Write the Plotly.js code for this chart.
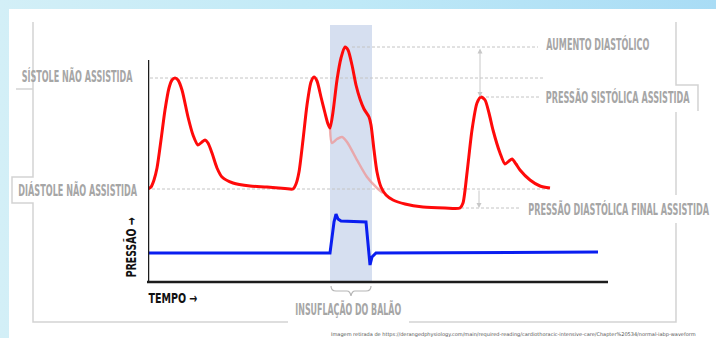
<!DOCTYPE html>
<html><head><meta charset="utf-8">
<script src="https://cdn.plot.ly/plotly-3.0.1.min.js"></script>
<style>
html,body{margin:0;padding:0;width:716px;height:338px;overflow:hidden;
background:linear-gradient(90deg,#d3eff7 0%,#bfe9f7 50%,#a9dcf5 100%);}
#chart{width:716px;height:338px;}
</style></head><body><div id="chart"></div>
<script>
// ---- data (time in s, pressure in arbitrary mmHg-like units) ----
const aortaT = [0,0.015,0.03,0.045,0.065,0.085,0.105,0.12,0.135,0.15,0.17,0.2,0.225,0.25,0.27,0.285,0.3,0.32,0.345,0.37,0.425,0.51,0.595,0.685,0.725,0.74,0.755,0.775,0.795,0.815,0.83,0.845,0.865,0.885,0.9,0.91,0.925,0.945,0.965,0.985,1.0,1.02,1.04,1.06,1.08,1.105,1.115,1.13,1.145,1.165,1.19,1.225,1.285,1.375,1.485,1.56,1.575,1.595,1.62,1.645,1.665,1.685,1.705,1.725,1.76,1.785,1.805,1.82,1.84,1.86,1.91,1.96,2.01];
const aortaP = [70,71,74.5,80.5,94.5,109.5,120.5,124.5,125.5,124.5,119.5,106,97,92,93.5,94.5,93,88,80.5,76,73,71.5,71,70.25,70,72.5,78.5,94.5,112,123.5,126,124,116,108,102.5,100.5,108.5,124.5,135.5,141,139.5,132,122,115,110,106,102,89.5,78.5,71,67,64.5,62.5,61,60.5,60.5,63,78,99.5,113,116,114.5,108,99.5,88,82.5,84,85,82.5,79.5,74.5,71.5,70.5];
const semBalaoT = [0.91,0.92,0.945,0.97,0.995,1.045,1.095,1.145,1.175];
const semBalaoP = [100.5,93,95,96,93.5,84.5,76,70.5,68];
const balaoT = [0,0.91,0.93,0.94,0.95,0.965,1.09,1.1,1.11,1.12,1.14,2.25];
const balaoP = [38,38,53.5,57.5,55,54,53.5,42,32,36,38,38.5];
const inflacao = [0.91, 1.12];
const niveisNomes = ['SÍSTOLE NÃO ASSISTIDA','AUMENTO DIASTÓLICO','PRESSÃO SISTÓLICA ASSISTIDA','DIÁSTOLE NÃO ASSISTIDA','PRESSÃO DIASTÓLICA FINAL ASSISTIDA'];
const niveisP = [125.5, 141, 116, 70, 60.5];
const niveisT0 = [-0.04, 1.02, 1.665, 0.02, 1.565];
const niveisT1 = [1.98, 1.95, 1.955, 2.005, 1.865];
const tituloX = 'TEMPO →';
const tituloY = 'PRESSÃO →';
const rotuloBalao = 'INSUFLAÇÃO DO BALÃO';
const fonte = 'Imagem retirada de https://derangedphysiology.com/main/required-reading/cardiothoracic-intensive-care/Chapter%20534/normal-iabp-waveform';

// ---- helpers for decoration in pixel space ----
const W = 716, H = 338;
const px = x => x / W, py = y => 1 - y / H;
function pathPx(cmds){
  return cmds.map(c => c[0] + px(c[1]).toFixed(5) + ',' + py(c[2]).toFixed(5)).join(' ');
}
const frameCol = '#d3d3d3';
const gray = '#a6a6a6';
const fam = 'DejaVu Sans, sans-serif';
const labFont = {family:fam, size:15, color:gray, weight:'bold'};
const blackFont = {family:fam, size:14, color:'#111', weight:'bold'};

const shapes = [];
shapes.push({type:'rect',xref:'paper',yref:'paper',x0:px(9),x1:1,y0:0,y1:py(9),fillcolor:'#ffffff',line:{width:0},layer:'below'});
shapes.push({type:'rect',xref:'x',yref:'paper',x0:inflacao[0],x1:inflacao[1],y0:py(282),y1:py(25),fillcolor:'#d6dff0',line:{width:0},layer:'below'});
niveisP.forEach((p,i)=>shapes.push({type:'line',xref:'x',yref:'y',x0:niveisT0[i],x1:niveisT1[i],y0:p,y1:p,line:{color:'#c4c4c4',width:1,dash:'3px,2px'},layer:'below'}));
shapes.push({type:'line',xref:'x',yref:'paper',x0:0,x1:0,y0:py(283),y1:py(60),line:{color:'#1c1c1c',width:2.5}});
shapes.push({type:'line',xref:'paper',yref:'paper',x0:px(147),x1:px(608),y0:py(282),y1:py(282),line:{color:'#1c1c1c',width:2.5}});
const fl = {color:frameCol,width:1.5};
shapes.push({type:'path',xref:'paper',yref:'paper',path:pathPx([['M',33,22],['L',33,177],['L',12,177],['L',12,203],['L',33,203],['L',33,322],['L',288,322]]),line:fl});
shapes.push({type:'path',xref:'paper',yref:'paper',path:pathPx([['M',16,89],['L',33,89]]),line:fl});
shapes.push({type:'path',xref:'paper',yref:'paper',path:pathPx([['M',676,22],['L',676,85],['L',698,85],['L',698,111]]),line:fl});
shapes.push({type:'path',xref:'paper',yref:'paper',path:pathPx([['M',676,112],['L',676,195]]),line:fl});
shapes.push({type:'path',xref:'paper',yref:'paper',path:pathPx([['M',676,223],['L',676,322],['L',409,322]]),line:fl});
shapes.push({type:'path',xref:'paper',yref:'paper',path:pathPx([['M',331,286],['Q',331,291],['',336,291],['L',347,291],['Q',350,291],['',351,296],['Q',352,291],['',355,291],['L',366,291],['Q',371,291],['',371,286]]),line:{color:'#b5b5b5',width:1.2}});

// label: text, center x, center y, target width (px), font, angle
const labels = [
  [niveisNomes[0],77.5,77,111,labFont,0],
  [niveisNomes[3],77.5,190,119,labFont,0],
  [niveisNomes[1],597.5,44,103,labFont,0],
  [niveisNomes[2],618,98,144,labFont,0],
  [niveisNomes[4],618.5,209,181,labFont,0],
  [rotuloBalao,348,309,106,labFont,0],
  [tituloX,172.5,298,49,blackFont,0],
  [tituloY,131,247,60,blackFont,-90],
  [fonte,513,334,404,{family:fam,size:5,color:'#555'},0]
];
const ann = labels.map(l=>({text:l[0],xref:'paper',yref:'paper',x:px(l[1]),y:py(l[2]),xanchor:'center',yanchor:'middle',showarrow:false,font:l[4],textangle:l[5]}));
ann.push({x:1.66,y:niveisP[2],ax:1.66,ay:niveisP[1],xref:'x',yref:'y',axref:'x',ayref:'y',text:'',showarrow:true,arrowhead:2,arrowside:'end+start',arrowsize:1,arrowwidth:1,arrowcolor:'#c8c8c8'});
ann.push({x:1.655,y:niveisP[4],ax:1.655,ay:niveisP[3],xref:'x',yref:'y',axref:'x',ayref:'y',text:'',showarrow:true,arrowhead:2,arrowsize:1,arrowwidth:1,arrowcolor:'#c8c8c8'});

const traces = [
  {x:semBalaoT,y:semBalaoP,mode:'lines',line:{color:'rgba(238,150,150,0.75)',width:2.5,shape:'spline',smoothing:0.8},hoverinfo:'skip'},
  {x:aortaT,y:aortaP,mode:'lines',line:{color:'#ff0a0a',width:3,shape:'spline',smoothing:0.7},hoverinfo:'skip'},
  {x:balaoT,y:balaoP,mode:'lines',line:{color:'#0a1ef0',width:3},hoverinfo:'skip'}
];
const layout = {
  width:W,height:H,margin:{l:0,r:0,t:0,b:0},
  paper_bgcolor:'rgba(0,0,0,0)',plot_bgcolor:'rgba(0,0,0,0)',showlegend:false,
  xaxis:{domain:[148/W,608/W],range:[0,2.3],visible:false,fixedrange:true},
  yaxis:{domain:[(H-282)/H,(H-25)/H],range:[23.5,152],visible:false,fixedrange:true},
  shapes:shapes,annotations:ann
};
Plotly.newPlot('chart',traces,layout,{displayModeBar:false,staticPlot:true}).then(()=>{
  // condense label glyphs horizontally (about their centre) to the narrow reference lettering
  document.querySelectorAll('.annotation-text').forEach(t=>{
    const l = labels.find(a=>a[0]===t.textContent);
    if(!l) return;
    const nat = t.getComputedTextLength();
    if(!nat) return;
    const s = Math.min(1, l[3]/nat);
    const x = parseFloat(t.getAttribute('x')) || 0;
    t.removeAttribute('clip-path');
    t.setAttribute('transform','translate(' + (x*(1-s)).toFixed(2) + ',0) scale(' + s.toFixed(4) + ',1)');
  });
});
</script></body></html>
